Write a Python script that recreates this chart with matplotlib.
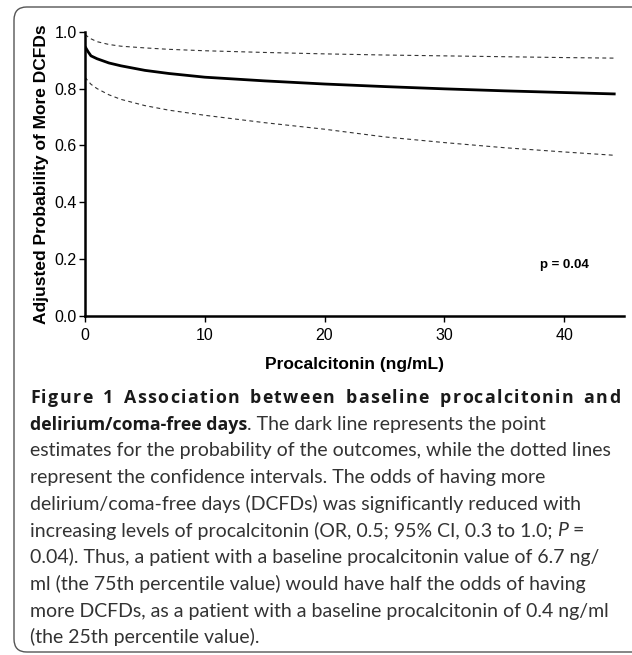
import matplotlib
matplotlib.use("Agg")
import matplotlib.pyplot as plt
from matplotlib.patches import FancyBboxPatch

# values
pct_x = [0, 0.25, 0.5, 1, 2, 3, 5, 7, 10, 15, 20, 25, 30, 35, 40, 44.3]
prob_est = [0.948, 0.93, 0.915, 0.905, 0.89, 0.88, 0.864, 0.853, 0.84, 0.827,
            0.816, 0.807, 0.799, 0.792, 0.786, 0.781]
prob_upper = [0.99, 0.982, 0.975, 0.965, 0.955, 0.949, 0.943, 0.938, 0.933,
              0.927, 0.922, 0.918, 0.915, 0.912, 0.909, 0.907]
prob_lower = [0.84, 0.827, 0.815, 0.8, 0.778, 0.762, 0.74, 0.724, 0.706, 0.68,
              0.657, 0.63, 0.61, 0.592, 0.577, 0.565]
x_ticks = [0, 10, 20, 30, 40]
y_ticks = [0.0, 0.2, 0.4, 0.6, 0.8, 1.0]

caption = [
    [("Figure 1 Association between baseline procalcitonin and", "bold")],
    [("delirium/coma-free days", "bold"), (". The dark line represents the point", "normal")],
    [("estimates for the probability of the outcomes, while the dotted lines", "normal")],
    [("represent the confidence intervals. The odds of having more", "normal")],
    [("delirium/coma-free days (DCFDs) was significantly reduced with", "normal")],
    [("increasing levels of procalcitonin (OR, 0.5; 95% CI, 0.3 to 1.0; ", "normal"),
     ("P", "italic"), (" =", "normal")],
    [("0.04). Thus, a patient with a baseline procalcitonin value of 6.7 ng/", "normal")],
    [("ml (the 75th percentile value) would have half the odds of having", "normal")],
    [("more DCFDs, as a patient with a baseline procalcitonin of 0.4 ng/ml", "normal")],
    [("(the 25th percentile value).", "normal")],
]

W, H = 632, 655
fig = plt.figure(figsize=(W / 100, H / 100), dpi=100)

# rounded frame around the figure panel
frame = FancyBboxPatch((14 / W, 3 / H), 1.2, 1 - 10 / H,
                       boxstyle="round,pad=0,rounding_size=0.02",
                       transform=fig.transFigure, fill=False,
                       edgecolor="#555555", linewidth=1.0, clip_on=False)
fig.patches.append(frame)

ax = fig.add_axes([85 / W, 1 - 316 / H, (624 - 85) / W, (316 - 31.7) / H])
ax.plot(pct_x, prob_est, color="black", lw=2.0, solid_capstyle="butt")
ax.plot(pct_x, prob_upper, color="#333333", lw=0.8, dashes=(3.5, 3))
ax.plot(pct_x, prob_lower, color="#333333", lw=0.8, dashes=(3.5, 3))

ax.set_xlim(0, 45)
ax.set_ylim(0, 1.0)
ax.set_xticks(x_ticks)
ax.set_yticks(y_ticks)
ax.set_yticklabels(["%.1f" % v for v in y_ticks])
for s in ["top", "right"]:
    ax.spines[s].set_visible(False)
for s in ["left", "bottom"]:
    ax.spines[s].set_linewidth(1.8)
ax.tick_params(length=4, width=1.0, labelsize=11.5, pad=2)
ax.tick_params(axis="x", pad=5)
for lab in ax.get_xticklabels() + ax.get_yticklabels():
    lab.set_family("Liberation Sans")

ax.set_ylabel("Adjusted Probability of More DCFDs", family="Liberation Sans",
              fontweight="bold", fontsize=12.5, labelpad=4)
ax.set_xlabel("Procalcitonin (ng/mL)", family="Liberation Sans",
              fontweight="bold", fontsize=12.5, labelpad=10)
ax.text(40, 0.18, "p = 0.04", family="Liberation Sans", fontweight="bold",
        fontsize=9.5, ha="center", va="center")

# caption, placed line by line in pixel positions
fig.canvas.draw()
renderer = fig.canvas.get_renderer()
cap_font = "Lato"
cap_size = 14
bold_font = "Open Sans"
bold_size = 12.8
left_px, right_px = 30, 620
y0, dy = 403, 26.7
bold_kw = dict(family=bold_font, fontsize=bold_size, fontweight="bold",
               color="#1a1a1a", va="baseline")


def text_width(s, **kw):
    t = fig.text(0, 0, s, **kw)
    w = t.get_window_extent(renderer).width
    t.remove()
    return w


for i, line in enumerate(caption):
    ypx = H - (y0 + i * dy)
    if i == 0:
        # justified first line: slack goes mostly to word gaps, a bit to letters
        words = line[0][0].split()
        word_w = [text_width(w, **bold_kw) for w in words]
        n_letter = sum(len(w) - 1 for w in words)
        n_word = len(words) - 1
        slack = right_px - left_px - sum(word_w)
        unit = slack / (n_letter + 8 * n_word)
        xpx = left_px
        for w, ww in zip(words, word_w):
            for k, ch in enumerate(w):
                off = text_width(w[:k], **bold_kw) if k else 0
                fig.text((xpx + off + k * unit) / W, ypx / H, ch, **bold_kw)
            xpx += ww + (len(w) - 1) * unit + 8 * unit
        continue
    xpx = left_px
    for txt, style in line:
        kw = dict(family=cap_font, fontsize=cap_size, va="baseline", color="#333333")
        if style == "bold":
            kw = dict(bold_kw)
        if style == "italic":
            kw["fontstyle"] = "italic"
        t = fig.text(xpx / W, ypx / H, txt, **kw)
        xpx += t.get_window_extent(renderer).width

fig.savefig("out.png", dpi=100)
